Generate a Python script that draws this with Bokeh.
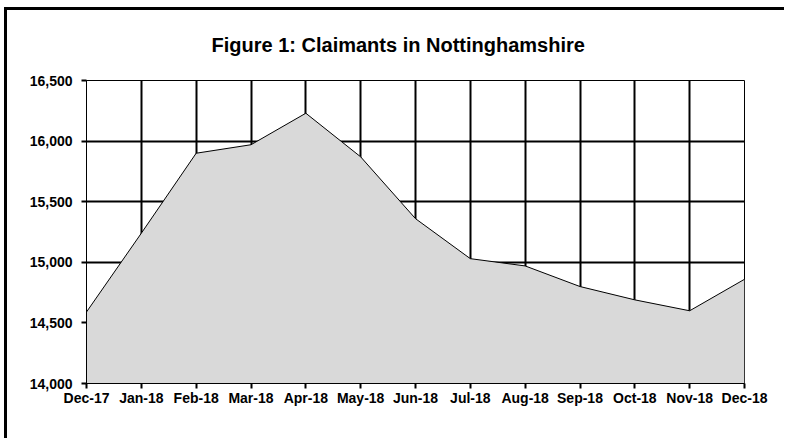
from bokeh.plotting import figure
from bokeh.models import Range1d, FixedTicker, NumeralTickFormatter, Title
from bokeh.embed import file_html
from bokeh.resources import INLINE

months = ["Dec-17", "Jan-18", "Feb-18", "Mar-18", "Apr-18", "May-18", "Jun-18",
          "Jul-18", "Aug-18", "Sep-18", "Oct-18", "Nov-18", "Dec-18"]
claimants = [14590, 15240, 15900, 15970, 16230, 15870, 15360,
             15030, 14970, 14800, 14690, 14600, 14860]
y_ticks = [14000, 14500, 15000, 15500, 16000, 16500]
title_text = "Figure 1: Claimants in Nottinghamshire"

xs = list(range(len(months)))
FONT = "Liberation Sans"

p = figure(width=780, height=431, x_range=Range1d(0, len(months) - 1),
           y_range=Range1d(y_ticks[0], y_ticks[-1]),
           output_backend="svg", toolbar_location=None,
           min_border_left=79, min_border_right=43,
           min_border_top=70, min_border_bottom=58)
p.styles = {"margin-left": "4px", "margin-top": "7px",
            "border-left": "3px solid black", "border-top": "3px solid black"}
p.background_fill_color = "white"
p.border_fill_color = "white"
p.outline_line_color = "black"
p.outline_line_width = 1

# area
p.varea(x=xs, y1=[y_ticks[0]] * len(xs), y2=claimants, fill_color="#d9d9d9")
p.line(x=xs, y=claimants, line_color="black", line_width=1)

# axes
p.xaxis.ticker = FixedTicker(ticks=xs)
p.xaxis.major_label_overrides = {i: m for i, m in enumerate(months)}
p.yaxis.ticker = FixedTicker(ticks=y_ticks)
p.yaxis.formatter = NumeralTickFormatter(format="0,0")
for ax in (p.xaxis, p.yaxis):
    ax.axis_line_color = "black"
    ax.axis_line_width = 1
    ax.major_tick_line_color = "black"
    ax.major_tick_line_width = 2
    ax.major_tick_in = 0
    ax.major_tick_out = 5
    ax.minor_tick_line_color = None
    ax.major_label_text_font = FONT
    ax.major_label_text_font_style = "bold"
    ax.major_label_text_font_size = "14px"
    ax.major_label_text_color = "black"
p.yaxis.major_label_standoff = 9
p.xaxis.major_label_standoff = 1

# grid
p.xgrid.ticker = FixedTicker(ticks=xs)
p.ygrid.ticker = FixedTicker(ticks=y_ticks)
for g in (p.xgrid, p.ygrid):
    g.grid_line_color = "black"
    g.grid_line_width = 2
    g.grid_line_alpha = 1.0

# title
p.add_layout(Title(text=title_text, align="left", offset=125, standoff=45,
                   vertical_align="top",
                   text_font=FONT, text_font_style="bold", text_font_size="20px",
                   text_color="black"), "above")

open("out.html", "w").write(file_html(p, INLINE))
